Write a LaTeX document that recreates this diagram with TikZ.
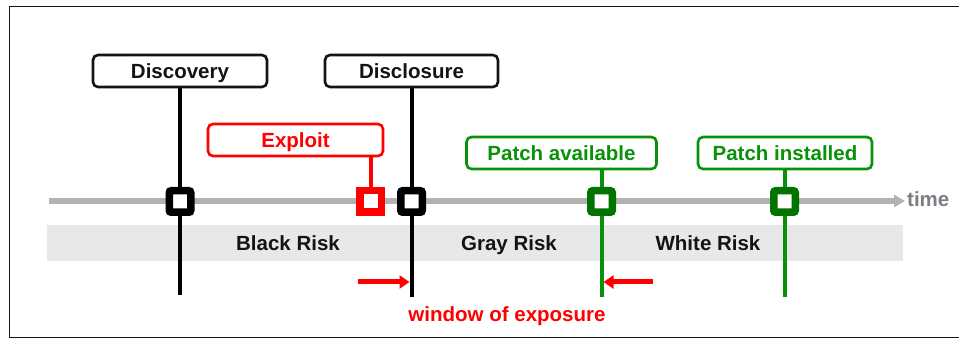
\documentclass[tikz,border=0pt]{standalone}
\usepackage{fontspec}
\setmainfont{Liberation Sans}
\usetikzlibrary{arrows.meta}

\definecolor{riskred}{RGB}{255,0,0}
\definecolor{patchgreen}{RGB}{10,145,10}
\definecolor{markgreen}{RGB}{0,115,0}
\definecolor{bandgray}{RGB}{232,232,232}
\definecolor{axisgray}{RGB}{178,178,178}
\definecolor{timegray}{RGB}{125,125,132}
\definecolor{inkblack}{RGB}{20,20,20}

\begin{document}
\begin{tikzpicture}[x=1pt,y=-1pt,
  txt/.style={font=\fontsize{20.5}{24}\selectfont\bfseries, text height=15pt, text depth=0pt},
  eventbox/.style={txt, line width=2.6pt, rounded corners=5pt, fill=white,
    minimum width=#1, minimum height=32pt, inner sep=0pt},
  marker/.style={line width=7.5pt, fill=white, minimum size=21.5pt, inner sep=0pt},
  stem/.style={line width=4pt},
  window/.style={riskred, line width=5pt, -{Triangle[length=10pt,width=13pt]}},
]
\useasboundingbox (0,0) rectangle (959,339);

% open frame
\draw[line width=1.6pt, inkblack] (959,6.5) -- (9.5,6.5) -- (9.5,337.5) -- (959,337.5);

% risk band
\fill[bandgray] (47,225) rectangle (903,261);
\node[txt, text=inkblack] (black) at (288,243.5) {Black Risk};
\node[txt, text=inkblack] (gray)  at (509,243.5) {Gray Risk};
\node[txt, text=inkblack] (white) at (708,243.5) {White Risk};

% time axis
\coordinate (axisStart) at (49,201);
\coordinate (axisEnd) at (905,201);
\draw[axisgray, line width=5.5pt, -{Triangle[length=11pt,width=12pt]}] (axisStart) -- (axisEnd);
\node[txt, text=timegray, anchor=west, inner sep=0pt] (time) at (907,199.5) {time};

% event labels
\node[eventbox=174pt, draw=inkblack, text=inkblack] (disc)  at (180,71)   {Discovery};
\node[eventbox=173pt, draw=inkblack, text=inkblack] (discl) at (411.5,71) {Disclosure};
\node[eventbox=175pt, draw=riskred, text=riskred]  (expl)  at (295.5,140) {Exploit};
\node[eventbox=190pt, draw=patchgreen, text=patchgreen] (pavail) at (561.5,153) {Patch available};
\node[eventbox=174pt, draw=patchgreen, text=patchgreen] (pinst)  at (785,153)   {Patch installed};

% stem ends
\coordinate (discEnd)   at (180,295);
\coordinate (disclEnd)  at (411.5,297);
\coordinate (pavailEnd) at (601.5,297);
\coordinate (pinstEnd)  at (784.5,297);
\coordinate (explFoot)  at (370.5,201);

% stems
\draw[stem, black] (disc.south)  -- (discEnd);
\draw[stem, black] (discl.south) -- (disclEnd);
\draw[stem, patchgreen] (pavail.south -| pavailEnd) -- (pavailEnd);
\draw[stem, patchgreen] (pinst.south -| pinstEnd) -- (pinstEnd);
\draw[stem, riskred] (expl.south -| explFoot) -- (explFoot);

% markers on the axis
\node[marker, draw=black, rounded corners=2pt] (mDisc)   at (180,201.5) {};
\node[marker, draw=black, rounded corners=2pt] (mDiscl)  at (411.5,201.5) {};
\node[marker, draw=riskred] (mExpl) at (370.5,201.5) {};
\node[marker, draw=markgreen, rounded corners=2pt] (mPavail) at (601.5,201.5) {};
\node[marker, draw=markgreen, rounded corners=2pt] (mPinst)  at (784.5,201.5) {};

% window of exposure
\coordinate (winLeftStart)  at (358,282);
\coordinate (winLeftEnd)    at (409.5,282);
\coordinate (winRightStart) at (653,282);
\coordinate (winRightEnd)   at (603.5,282);
\draw[window] (winLeftStart) -- (winLeftEnd);
\draw[window] (winRightStart) -- (winRightEnd);
\node[txt, text=riskred] (win) at (507,313.5) {window of exposure};
\end{tikzpicture}
\end{document}
